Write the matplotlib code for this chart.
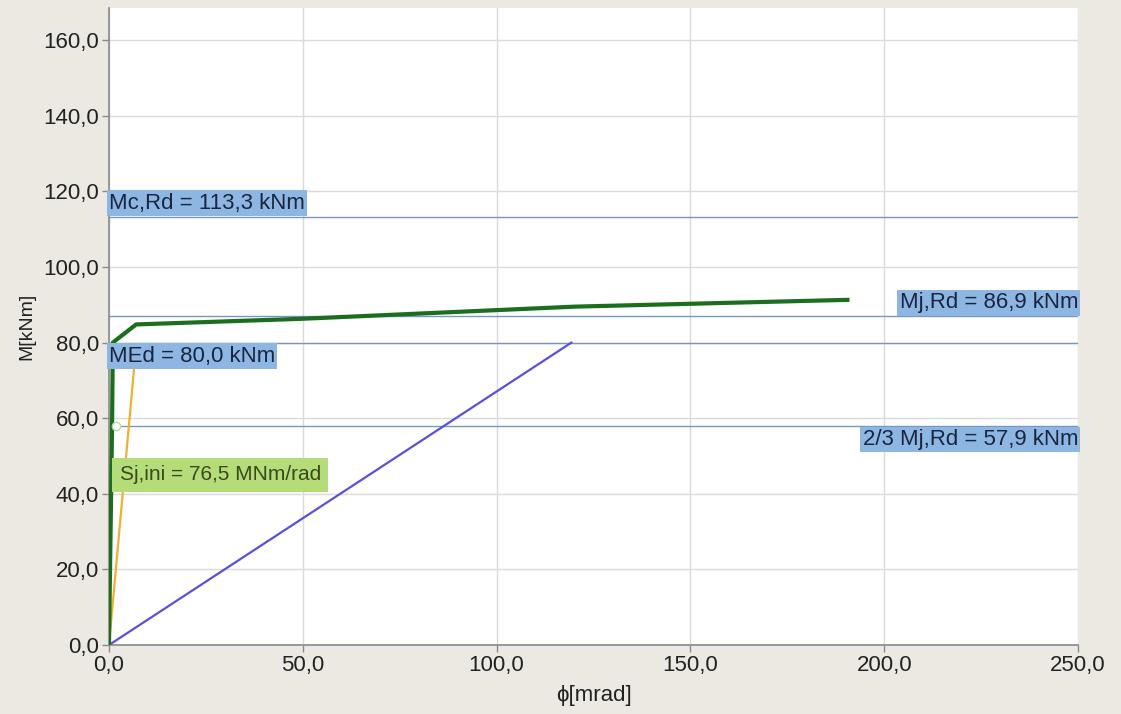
import numpy as np
import matplotlib
matplotlib.use("Agg")
import matplotlib.pyplot as plt
import matplotlib.transforms as mtransforms

plt.rcParams['font.family'] = ['Liberation Sans', 'DejaVu Sans']

# moment-rotation curve of the joint
phi_curve = [0.0, 0.8, 1.0, 7.0, 50.0, 120.0, 190.5]
m_curve = [0.0, 57.9, 80.0, 84.8, 86.3, 89.5, 91.3]

# initial stiffness line
phi_sj = [0.0, 6.6]
m_sj = [0.0, 74.5]

# loading line
phi_load = [0.0, 119.3]
m_load = [0.0, 80.0]

# reference moments
Mc_Rd = 113.3
Mj_Rd = 86.9
M_Ed = 80.0
Mj_23 = 57.9
Sj_ini = 76.5

xticks = [0, 50, 100, 150, 200, 250]
yticks = [0, 20, 40, 60, 80, 100, 120, 140, 160]

bg = '#ECE9E2'
box_blue = '#8DB6E3'
line_blue = '#7896BE'

fig = plt.figure(figsize=(11.21, 7.14), dpi=100, facecolor=bg)
ax = fig.add_axes([0.0972, 0.0966, 0.8645, 0.8922])
ax.set_facecolor('white')

ax.set_xlim(0, 250)
ax.set_ylim(0, 168.5)
ax.set_xticks(xticks)
ax.set_yticks(yticks)
ax.set_xticklabels([f"{v:.1f}".replace('.', ',') for v in xticks])
ax.set_yticklabels([f"{v:.1f}".replace('.', ',') for v in yticks])
ax.grid(True, color='#DADADA', linewidth=1)
ax.set_axisbelow(True)
for s in ['top', 'right']:
    ax.spines[s].set_visible(False)
for s in ['left', 'bottom']:
    ax.spines[s].set_color('#8A8A8A')
    ax.spines[s].set_linewidth(1.2)
ax.tick_params(colors='#8A8A8A', labelcolor='#222222', labelsize=16, length=5, width=1, pad=2)

# horizontal reference lines
for m in [Mc_Rd, Mj_Rd, M_Ed, Mj_23]:
    ax.axhline(m, color=line_blue, linewidth=1, zorder=2)

ax.plot(phi_load, m_load, color='#5A50E0', linewidth=1.6, zorder=3)
ax.plot(phi_sj, m_sj, color='#F0B030', linewidth=1.6, zorder=3)
ax.plot(phi_curve, m_curve, color='#1B6E1E', linewidth=3, zorder=4)
ax.plot([1.8], [Mj_23], marker='o', markersize=6, mfc='white', mec='#B8DCA0', zorder=5)

trans = mtransforms.blended_transform_factory(ax.transAxes, ax.transData)

def label(x, y, txt, ha, va, fc, tc):
    ax.text(x, y, txt, transform=trans, ha=ha, va=va, fontsize=16, color=tc,
            zorder=6, bbox=dict(boxstyle='square,pad=0.1', fc=fc, ec='none'))

label(0.0, Mc_Rd + 0.8, f"Mc,Rd = {Mc_Rd:.1f} kNm".replace('.', ','), 'left', 'bottom', box_blue, '#1A2540')
label(1.0, Mj_Rd + 0.8, f"Mj,Rd = {Mj_Rd:.1f} kNm".replace('.', ','), 'right', 'bottom', box_blue, '#1A2540')
label(0.0, M_Ed - 0.8, f"MEd = {M_Ed:.1f} kNm".replace('.', ','), 'left', 'top', box_blue, '#1A2540')
label(1.0, Mj_23 - 0.8, f"2/3 Mj,Rd = {Mj_23:.1f} kNm".replace('.', ','), 'right', 'top', box_blue, '#1A2540')
ax.text(0.011, 45.0, f"Sj,ini = {Sj_ini:.1f} MNm/rad".replace('.', ','), transform=trans,
        ha='left', va='center', fontsize=15, color='#3A4A20', zorder=6,
        bbox=dict(boxstyle='square,pad=0.35', fc='#B4DC78', ec='none'))

ax.set_xlabel('ϕ[mrad]', fontsize=16, color='#222222', labelpad=7)
ax.set_ylabel('M[kNm]', fontsize=14, color='#222222', labelpad=6)

fig.savefig('out.png', dpi=100, facecolor=bg)
